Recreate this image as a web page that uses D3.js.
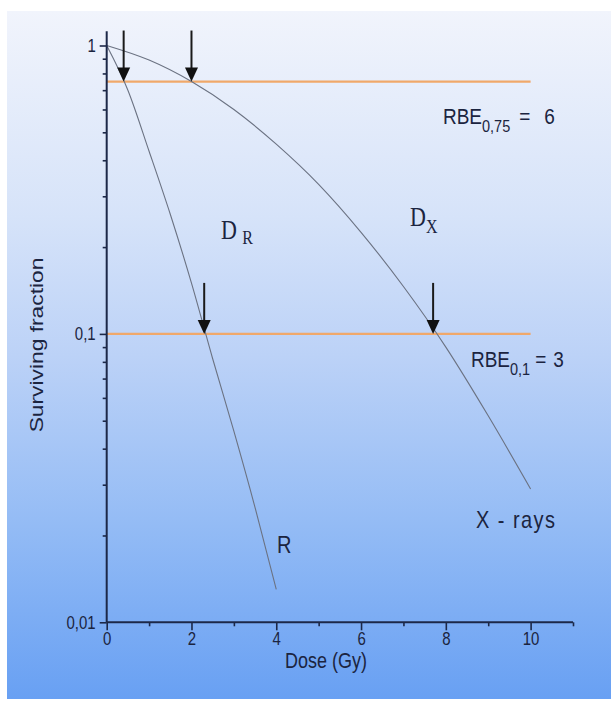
<!DOCTYPE html>
<html lang="en">
<head>
<meta charset="UTF-8">
<title>Surviving fraction vs dose</title>
<script src="https://d3js.org/d3.v7.min.js"></script>
<style>
  * { margin: 0; padding: 0; box-sizing: border-box; }
  body { background: #fff; }
  text { font-family: "Liberation Sans", Arial, sans-serif; fill: #1b2440; }
  .tall { transform-box: fill-box; transform-origin: center; transform: scaleY(1.2); }
  .wide { transform-box: fill-box; transform-origin: center; transform: scaleX(1.2); }
  .serif { font-family: "Liberation Serif", "Times New Roman", serif; }
</style>
</head>
<body>
<div id="container"></div>
<script>
// values
const xrayDose = [0, 1, 2, 3, 4, 5, 6, 7, 8, 9, 10];
const xraySF = [1, 0.89, 0.75, 0.6, 0.455, 0.33, 0.225, 0.146, 0.09, 0.052, 0.029];
const rDose = [0, 0.5, 1, 1.5, 2, 2.5, 3, 3.5, 4];
const rSF = [1, 0.7, 0.43, 0.26, 0.15, 0.082, 0.046, 0.025, 0.013];
const levels = [0.75, 0.1];          // orange reference lines
const levelEnd = 10;
const arrowDose = [0.4, 2.0, 2.3, 7.7];
const arrowSF = [0.75, 0.75, 0.1, 0.1];
const xMajor = [0, 2, 4, 6, 8, 10];
const xMinor = [1, 3, 5, 7, 9, 11];
const yMajor = [1, 0.1, 0.01];
const yLabels = ["1", "0,1", "0,01"];
const yMinor = [0.02, 0.03, 0.04, 0.05, 0.06, 0.07, 0.08, 0.09, 0.2, 0.3, 0.4, 0.5, 0.6, 0.7, 0.8, 0.9];

const W = 611, H = 704;
const x = d3.scaleLinear().domain([0, 11]).range([106.7, 573]);
const y = d3.scaleLog().domain([0.01, 1]).range([622.3, 45.5]);

const svg = d3.select("#container").append("svg")
  .attr("width", W).attr("height", H);

const grad = svg.append("defs").append("linearGradient")
  .attr("id", "bg").attr("x1", 0).attr("y1", 0).attr("x2", 0).attr("y2", 1);
[[0, "#f1f4fc"], [0.3, "#d6e3f9"], [0.5, "#bcd2f7"], [0.75, "#93bbf5"], [1, "#68a0f3"]]
  .forEach(([o, c]) => grad.append("stop").attr("offset", o).attr("stop-color", c));

svg.append("rect").attr("x", 7).attr("y", 11).attr("width", W - 7).attr("height", 688)
  .attr("fill", "url(#bg)");

// orange level lines
svg.selectAll(".level").data(levels).join("line")
  .attr("x1", x(0)).attr("x2", x(levelEnd))
  .attr("y1", d => y(d)).attr("y2", d => y(d))
  .attr("stroke", "#f0a86a").attr("stroke-width", 2.2);

// curves
const line = d3.line().x(d => x(d[0])).y(d => y(d[1])).curve(d3.curveMonotoneX);
svg.append("path").datum(d3.zip(xrayDose, xraySF)).attr("d", line)
  .attr("fill", "none").attr("stroke", "#6b7282").attr("stroke-width", 1.1);
svg.append("path").datum(d3.zip(rDose, rSF)).attr("d", line)
  .attr("fill", "none").attr("stroke", "#6b7282").attr("stroke-width", 1.1);

// arrows pointing at the crossings
const arrows = svg.selectAll(".arrow").data(d3.zip(arrowDose, arrowSF)).join("g")
  .attr("transform", d => `translate(${x(d[0])},${y(d[1])})`);
arrows.append("line").attr("x1", 0).attr("x2", 0).attr("y1", -51).attr("y2", -10)
  .attr("stroke", "#1a1a1a").attr("stroke-width", 2);
arrows.append("path").attr("d", "M-6.5,-14 L6.5,-14 L0,0 Z").attr("fill", "#111");

// axes
const axisColor = "#1c2848";
const gx = svg.append("g").attr("transform", `translate(0,${y(0.01)})`);
gx.call(d3.axisBottom(x).tickValues(xMajor).tickSize(8).tickPadding(3).tickFormat(d3.format("d")));
gx.append("g").call(d3.axisBottom(x).tickValues(xMinor).tickSize(4).tickFormat(""));
gx.selectAll(".domain").remove();
gx.append("line").attr("x1", x(0)).attr("x2", x(11)).attr("stroke", axisColor).attr("stroke-width", 2);
gx.selectAll(".tick line").attr("stroke", axisColor).attr("stroke-width", 1.6);
gx.selectAll(".tick text").attr("font-size", 15).attr("class", "tall").style("fill", "#1b2440");

const gy = svg.append("g").attr("transform", `translate(${x(0)},0)`);
gy.call(d3.axisLeft(y).tickValues(yMajor).tickSize(7).tickPadding(4)
  .tickFormat((d, i) => yLabels[i]));
gy.append("g").call(d3.axisLeft(y).tickValues(yMinor).tickSize(4).tickFormat(""));
gy.selectAll(".domain").remove();
gy.append("line").attr("y1", y(1.12)).attr("y2", y(0.01)).attr("stroke", axisColor).attr("stroke-width", 2);
gy.selectAll(".tick line").attr("stroke", axisColor).attr("stroke-width", 1.6);
gy.selectAll(".tick text").attr("font-size", 15).attr("class", "tall").style("fill", "#1b2440");

// axis titles
svg.append("text").attr("x", 326).attr("y", 667).attr("text-anchor", "middle")
  .attr("font-size", 18).attr("class", "tall").text("Dose (Gy)");
svg.append("g").attr("transform", "translate(43,345) rotate(-90)")
  .append("text").attr("text-anchor", "middle").attr("font-size", 19).attr("class", "wide")
  .text("Surviving fraction");

// annotations
function rbe(px, py, sub, val, eqGap, gap) {
  const t = svg.append("text").attr("x", px).attr("y", py).attr("font-size", 19).attr("class", "tall");
  t.append("tspan").text("RBE");
  t.append("tspan").attr("font-size", 14.5).attr("dy", 7).text(sub);
  t.append("tspan").attr("dy", -7).attr("dx", eqGap).text("=");
  t.append("tspan").attr("dx", gap).text(val);
}
rbe(443, 123, "0,75", 6, 9, 14);
rbe(471, 366, "0,1", 3, 5, 7);

const dr = svg.append("text").attr("x", 221).attr("y", 238).attr("font-size", 22).attr("class", "serif tall");
dr.append("tspan").text("D ");
dr.append("tspan").attr("font-size", 16).attr("dy", 4).text("R");

const dx = svg.append("text").attr("x", 410).attr("y", 225).attr("font-size", 22).attr("class", "serif tall");
dx.append("tspan").text("D");
dx.append("tspan").attr("font-size", 16).attr("dy", 6).text("X");

svg.append("text").attr("x", 277).attr("y", 552).attr("font-size", 20).attr("class", "tall").text("R");
svg.append("text").attr("x", 476).attr("y", 527).attr("font-size", 20).attr("class", "tall")
  .attr("textLength", 79).text("X - rays");
</script>
</body>
</html>
